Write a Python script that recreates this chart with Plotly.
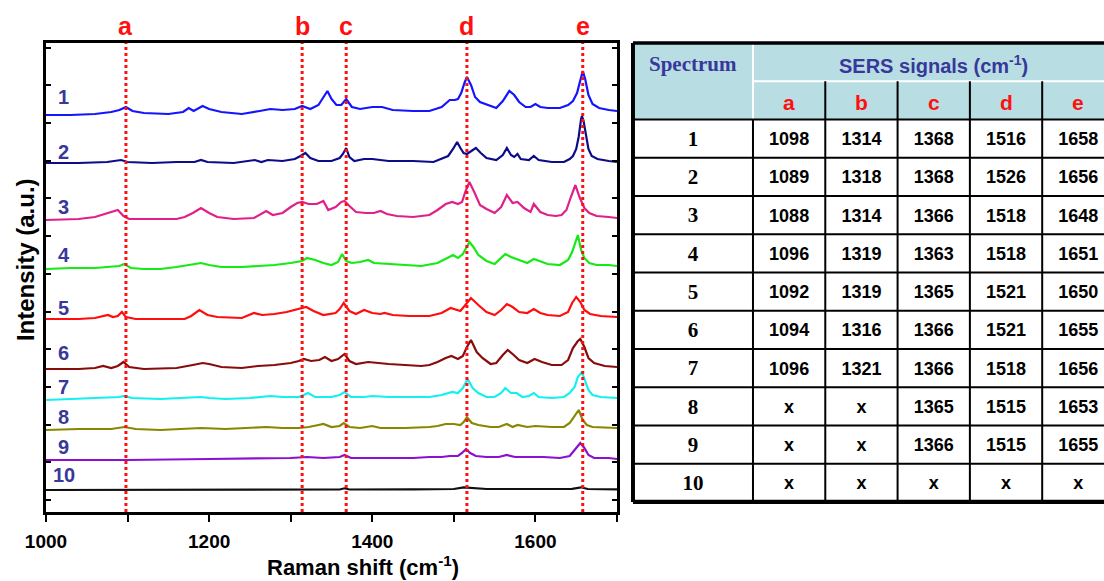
import plotly.graph_objects as go

# ---------------- data ----------------
mark_labels = ["a", "b", "c", "d", "e"]
mark_shifts = [1098, 1314, 1368, 1516, 1658]

spectrum_names = ["1", "2", "3", "4", "5", "6", "7", "8", "9", "10"]
spectrum_colors = ["#1414ff", "#0c0c8a", "#e0208a", "#14ea14", "#ff0c0c",
                   "#880c0c", "#14f0f0", "#888800", "#8c10d0", "#101010"]
# vertical stacking offset of each spectrum (a.u.)
offsets = [385, 337, 280, 231, 181, 131, 100, 70, 40, 10]
# height (a.u.) at which the number of each spectrum is written
label_levels = [403, 348, 293, 245, 192, 147, 113, 83, 53, 25]

# (Raman shift cm-1, intensity above own baseline a.u.)
spec1 = [(1000, 0), (1030, 0), (1060, 1), (1080, 3), (1090, 5), (1098, 8), (1106, 4), (1120, 2),
         (1150, 1), (1168, 3), (1175, 7), (1181, 4), (1192, 9), (1200, 6), (1215, 3), (1240, 1),
         (1262, 4), (1275, 6), (1290, 5), (1305, 6), (1314, 9), (1324, 6), (1334, 10), (1340, 18),
         (1345, 24), (1350, 16), (1356, 10), (1362, 10), (1368, 16), (1375, 8), (1385, 6), (1400, 8),
         (1412, 8), (1425, 5), (1450, 4), (1470, 4), (1485, 8), (1495, 15), (1501, 15), (1505, 16),
         (1509, 22), (1513, 32), (1516, 38), (1521, 30), (1526, 18), (1532, 13), (1545, 9), (1552, 7),
         (1560, 14), (1568, 24), (1574, 20), (1580, 13), (1588, 8), (1594, 8), (1600, 11), (1606, 8),
         (1615, 7), (1630, 7), (1640, 10), (1646, 14), (1651, 22), (1655, 36), (1658, 44), (1661, 36),
         (1665, 20), (1670, 11), (1678, 7), (1690, 5), (1700, 4)]
spec2 = [(1000, 0), (1040, 0), (1075, 1), (1086, 2), (1092, 3), (1100, 1), (1130, 0), (1160, 1),
         (1182, 1), (1190, 3), (1198, 1), (1230, 0), (1256, 3), (1264, 1), (1272, 3), (1290, 2),
         (1305, 4), (1312, 7), (1318, 10), (1324, 5), (1334, 2), (1350, 2), (1360, 5), (1364, 9),
         (1368, 15), (1372, 6), (1378, 2), (1390, 4), (1400, 4), (1420, 2), (1450, 2), (1475, 1),
         (1486, 5), (1493, 7), (1499, 14), (1504, 21), (1508, 15), (1512, 10), (1516, 9), (1521, 12),
         (1527, 15), (1533, 10), (1540, 5), (1552, 3), (1560, 8), (1565, 15), (1570, 8), (1574, 6),
         (1578, 9), (1582, 4), (1592, 3), (1598, 7), (1604, 3), (1620, 1), (1635, 1), (1642, 4),
         (1646, 7), (1650, 14), (1653, 26), (1656, 44), (1657, 47), (1659, 42), (1662, 28), (1665, 14),
         (1669, 7), (1676, 4), (1690, 2), (1700, 1)]
spec3 = [(1000, 0), (1040, 1), (1060, 3), (1075, 7), (1082, 9), (1088, 10), (1095, 4), (1102, 1),
         (1130, 1), (1160, 1), (1170, 3), (1180, 7), (1190, 12), (1200, 7), (1210, 3), (1230, 1),
         (1255, 2), (1264, 6), (1270, 9), (1278, 5), (1290, 7), (1300, 13), (1308, 17), (1314, 18),
         (1322, 16), (1332, 16), (1340, 19), (1346, 10), (1355, 13), (1362, 18), (1366, 19), (1372, 14),
         (1380, 8), (1392, 7), (1402, 7), (1410, 9), (1418, 6), (1430, 4), (1450, 3), (1470, 5),
         (1480, 10), (1490, 16), (1498, 18), (1505, 16), (1510, 18), (1514, 28), (1519, 38), (1525, 28),
         (1532, 15), (1540, 11), (1550, 7), (1558, 13), (1565, 25), (1572, 17), (1578, 18), (1586, 12),
         (1594, 8), (1598, 16), (1606, 8), (1615, 5), (1625, 4), (1632, 5), (1638, 10), (1643, 22),
         (1649, 35), (1654, 23), (1660, 12), (1666, 7), (1675, 4), (1690, 3), (1700, 2)]
spec4 = [(1000, 0), (1030, 1), (1060, 1), (1080, 2), (1090, 3), (1096, 5), (1104, 1), (1120, 0),
         (1140, 0), (1160, 2), (1180, 5), (1190, 6), (1200, 4), (1215, 2), (1240, 2), (1260, 3),
         (1280, 4), (1300, 6), (1314, 8), (1320, 11), (1330, 9), (1340, 6), (1350, 4), (1358, 7),
         (1363, 15), (1368, 8), (1375, 6), (1385, 7), (1395, 9), (1402, 6), (1420, 5), (1440, 4),
         (1460, 3), (1480, 6), (1490, 10), (1499, 14), (1505, 11), (1511, 15), (1519, 27), (1524, 22),
         (1530, 14), (1540, 8), (1550, 5), (1558, 11), (1563, 15), (1570, 12), (1580, 9), (1590, 6),
         (1598, 10), (1605, 8), (1615, 5), (1630, 4), (1640, 9), (1645, 17), (1649, 28), (1652, 34),
         (1656, 19), (1660, 11), (1666, 6), (1675, 4), (1690, 4), (1700, 3)]
spec5 = [(1000, 0), (1040, 0), (1060, 1), (1070, 3), (1076, 4), (1082, 2), (1088, 3), (1093, 7),
         (1098, 2), (1110, 0), (1170, 0), (1178, 3), (1188, 9), (1198, 4), (1210, 2), (1240, 1),
         (1255, 6), (1265, 4), (1280, 5), (1295, 7), (1310, 10), (1319, 12), (1328, 8), (1340, 4),
         (1355, 6), (1360, 10), (1365, 16), (1372, 8), (1380, 5), (1390, 9), (1400, 6), (1410, 5),
         (1415, 6), (1425, 4), (1445, 3), (1470, 3), (1485, 6), (1496, 11), (1508, 8), (1514, 14),
         (1521, 21), (1530, 14), (1540, 7), (1550, 4), (1558, 9), (1565, 15), (1572, 12), (1580, 7),
         (1590, 6), (1598, 10), (1606, 6), (1615, 4), (1630, 3), (1640, 7), (1645, 16), (1650, 22),
         (1655, 17), (1660, 9), (1667, 5), (1680, 3), (1700, 2)]
spec6 = [(1000, 0), (1040, 0), (1060, 1), (1070, 3), (1080, 1), (1088, 3), (1095, 7), (1102, 2),
         (1120, 0), (1160, 1), (1180, 4), (1192, 6), (1200, 5), (1215, 2), (1240, 1), (1260, 3),
         (1280, 4), (1300, 6), (1310, 8), (1316, 10), (1325, 8), (1335, 9), (1342, 12), (1350, 8),
         (1358, 10), (1366, 15), (1372, 8), (1380, 5), (1395, 7), (1405, 6), (1420, 5), (1440, 4),
         (1460, 3), (1470, 4), (1480, 7), (1490, 11), (1497, 13), (1505, 10), (1511, 13), (1516, 22),
         (1521, 29), (1528, 17), (1535, 11), (1545, 5), (1552, 6), (1560, 14), (1566, 19), (1572, 15),
         (1580, 9), (1590, 6), (1599, 10), (1608, 7), (1620, 4), (1632, 4), (1640, 9), (1646, 21),
         (1652, 28), (1655, 30), (1660, 22), (1665, 11), (1672, 6), (1685, 3), (1700, 2)]
spec7 = [(1000, 0), (1040, 1), (1080, 2), (1090, 3), (1096, 4), (1105, 2), (1140, 1), (1180, 2),
         (1190, 3), (1200, 2), (1220, 1), (1250, 2), (1275, 4), (1290, 3), (1310, 3), (1316, 5),
         (1321, 7), (1330, 3), (1350, 3), (1360, 5), (1366, 8), (1374, 3), (1390, 3), (1400, 4),
         (1420, 3), (1450, 3), (1470, 3), (1485, 5), (1498, 8), (1505, 7), (1511, 12), (1517, 21),
         (1523, 12), (1530, 7), (1540, 3), (1550, 3), (1558, 7), (1563, 12), (1570, 7), (1577, 7),
         (1584, 3), (1592, 4), (1598, 7), (1604, 3), (1620, 2), (1635, 3), (1642, 7), (1648, 13),
         (1652, 23), (1657, 28), (1661, 18), (1665, 10), (1670, 5), (1680, 3), (1700, 2)]
spec8 = [(1000, 0), (1040, 1), (1080, 1), (1090, 2), (1096, 3), (1110, 1), (1140, 0), (1190, 2),
         (1220, 1), (1270, 3), (1290, 2), (1310, 2), (1322, 3), (1334, 5), (1340, 6), (1350, 3),
         (1360, 4), (1365, 7), (1372, 3), (1385, 2), (1400, 4), (1410, 2), (1440, 2), (1470, 3),
         (1480, 4), (1490, 6), (1500, 6), (1508, 5), (1512, 8), (1516, 13), (1522, 7), (1530, 5),
         (1545, 3), (1555, 3), (1565, 6), (1572, 3), (1578, 5), (1590, 3), (1600, 4), (1620, 3),
         (1635, 3), (1642, 7), (1647, 13), (1653, 20), (1658, 10), (1663, 5), (1670, 3), (1690, 2),
         (1700, 2)]
spec9 = [(1000, 0), (1100, 0), (1200, 1), (1300, 2), (1320, 3), (1340, 2), (1360, 3), (1366, 5),
         (1374, 2), (1400, 2), (1450, 2), (1470, 3), (1485, 3), (1495, 4), (1505, 4), (1510, 7),
         (1515, 11), (1520, 7), (1527, 4), (1540, 3), (1555, 3), (1565, 5), (1575, 3), (1590, 3),
         (1610, 3), (1630, 2), (1642, 4), (1648, 10), (1655, 17), (1660, 12), (1665, 5), (1672, 2),
         (1690, 2), (1700, 1)]
spec10 = [(1000, 0), (1100, 0), (1200, 0.5), (1300, 0.5), (1360, 0.5), (1366, 1.7), (1372, 0.5),
          (1450, 0.7), (1500, 1), (1512, 2.7), (1520, 2), (1540, 1), (1600, 1), (1645, 1.2),
          (1656, 2.7), (1664, 1), (1700, 0.7)]
spectra = [spec1, spec2, spec3, spec4, spec5, spec6, spec7, spec8, spec9, spec10]

# table of SERS signals
table_rows = ["1", "2", "3", "4", "5", "6", "7", "8", "9", "10"]
sig_a = ["1098", "1089", "1088", "1096", "1092", "1094", "1096", "x", "x", "x"]
sig_b = ["1314", "1318", "1314", "1319", "1319", "1316", "1321", "x", "x", "x"]
sig_c = ["1368", "1368", "1366", "1363", "1365", "1366", "1366", "1365", "1366", "x"]
sig_d = ["1516", "1526", "1518", "1518", "1521", "1521", "1518", "1515", "1515", "x"]
sig_e = ["1658", "1656", "1648", "1651", "1650", "1655", "1656", "1653", "1655", "x"]
sig_columns = [sig_a, sig_b, sig_c, sig_d, sig_e]

# ---------------- figure ----------------
SANS = "Liberation Sans, Arial, sans-serif"
SERIF = "Liberation Serif, Times New Roman, serif"
LABEL_BLUE = "#38389a"
HEADER_FILL = "#b8dde3"

fig = go.Figure()

for name, pts, off, col in zip(spectrum_names, spectra, offsets, spectrum_colors):
    fig.add_trace(go.Scatter(
        x=[p[0] for p in pts], y=[off + p[1] for p in pts],
        mode="lines", line=dict(color=col, width=2.2),
        showlegend=False, hoverinfo="skip", name=name))

shapes = []
# dotted marker lines at the reference positions
for m in mark_shifts:
    shapes.append(dict(type="line", xref="x", yref="y domain", x0=m, x1=m, y0=0, y1=1,
                       line=dict(color="#ff1010", width=3, dash="dot"), layer="above"))

annotations = []
for lab, m in zip(mark_labels, mark_shifts):
    annotations.append(dict(x=m, y=1.032, xref="x", yref="paper", text=f"<b>{lab}</b>",
                            showarrow=False, font=dict(family=SANS, size=25, color="#ff1010"),
                            xanchor="center", yanchor="middle"))
for name, lev in zip(spectrum_names, label_levels):
    annotations.append(dict(x=1022, y=lev, xref="x", yref="y", text=f"<b>{name}</b>",
                            showarrow=False, font=dict(family=SANS, size=20, color=LABEL_BLUE),
                            xanchor="center", yanchor="middle"))
annotations.append(dict(x=-0.0198, y=0.535, xref="paper", yref="paper",
                        text="<b>Intensity (a.u.)</b>", textangle=-90, showarrow=False,
                        font=dict(family=SANS, size=24, color="black"),
                        xanchor="center", yanchor="middle"))
annotations.append(dict(x=0.2996, y=-0.114, xref="paper", yref="paper",
                        text="<b>Raman shift (cm<sup>-1</sup>)</b>", showarrow=False,
                        font=dict(family=SANS, size=22, color="black"),
                        xanchor="center", yanchor="middle"))

# ---------------- table (drawn on its own axes, pixel-like units) ----------------
spec_w = 120.0
sig_w = 72.3
row_h = 38.25
col_edges = [0.0, spec_w] + [spec_w + sig_w * (i + 1) for i in range(5)]
n_rows = len(table_rows) + 2
table_bottom = n_rows * row_h
x_end = col_edges[-1]


def rect(x0, x1, y0, y1, fill):
    shapes.append(dict(type="rect", xref="x2", yref="y2", x0=x0, x1=x1, y0=y0, y1=y1,
                       fillcolor=fill, line=dict(width=0), layer="below"))


def seg(x0, x1, y0, y1, w):
    shapes.append(dict(type="line", xref="x2", yref="y2", x0=x0, x1=x1, y0=y0, y1=y1,
                       line=dict(color="black", width=w), layer="above"))


rect(0, spec_w - 1, 0, 2 * row_h, HEADER_FILL)
rect(spec_w + 1, x_end, 0, row_h - 1, HEADER_FILL)
rect(spec_w + 1, x_end, row_h + 1, 2 * row_h, HEADER_FILL)

for k in range(2, n_rows):
    seg(0, x_end, k * row_h, k * row_h, 2.2 if k == 2 else 2)
seg(spec_w, spec_w, 2 * row_h, table_bottom, 2)
for xe in col_edges[2:-1]:
    seg(xe, xe, row_h, table_bottom, 2)
seg(0, 0, 0, table_bottom, 4)
seg(0, x_end, 0, 0, 3.5)
seg(0, x_end, table_bottom, table_bottom, 4.5)

annotations.append(dict(x=spec_w / 2, y=0.55 * row_h, xref="x2", yref="y2",
                        text="<b>Spectrum</b>", showarrow=False,
                        font=dict(family=SERIF, size=21, color=LABEL_BLUE)))
annotations.append(dict(x=(spec_w + x_end) / 2, y=0.55 * row_h, xref="x2", yref="y2",
                        text="<b>SERS signals (cm<sup>-1</sup>)</b>", showarrow=False,
                        font=dict(family=SANS, size=20, color=LABEL_BLUE)))
for i, lab in enumerate(mark_labels):
    annotations.append(dict(x=(col_edges[i + 1] + col_edges[i + 2]) / 2, y=1.55 * row_h,
                            xref="x2", yref="y2", text=f"<b>{lab}</b>", showarrow=False,
                            font=dict(family=SANS, size=21, color="#ff1010")))

row_centers = [(k + 2.55) * row_h for k in range(len(table_rows))]
fig.add_trace(go.Scatter(x=[spec_w / 2] * len(table_rows), y=row_centers,
                         text=[f"<b>{r}</b>" for r in table_rows], mode="text",
                         textfont=dict(family=SERIF, size=21, color="black"),
                         xaxis="x2", yaxis="y2", showlegend=False, hoverinfo="skip"))
for i, colvals in enumerate(sig_columns):
    cx = (col_edges[i + 1] + col_edges[i + 2]) / 2
    fig.add_trace(go.Scatter(x=[cx] * len(colvals), y=row_centers,
                             text=[f"<b>{v}</b>" for v in colvals], mode="text",
                             textfont=dict(family=SANS, size=18, color="black"),
                             xaxis="x2", yaxis="y2", showlegend=False, hoverinfo="skip",
                             cliponaxis=False))

fig.update_layout(
    width=1104, height=581,
    margin=dict(l=46, r=0, t=41, b=69),
    paper_bgcolor="white", plot_bgcolor="white",
    showlegend=False,
    xaxis=dict(domain=[0, 0.5397], range=[1000, 1700], showline=True, linecolor="black",
               linewidth=3, mirror=True, ticks="outside", ticklen=7, tickwidth=2,
               tickcolor="black", tick0=1000, dtick=200,
               minor=dict(dtick=100, ticks="outside", ticklen=7, tickwidth=2, tickcolor="black"),
               showgrid=False, zeroline=False, ticklabelstandoff=3,
               tickfont=dict(family=SANS, size=19, color="black", weight="bold")),
    yaxis=dict(domain=[0, 0.99575], range=[-12, 457], showline=True, linecolor="black",
               linewidth=3, mirror="ticks", ticks="inside", ticklen=5, tickwidth=1.5,
               tickcolor="black", tick0=0, dtick=37.7, showticklabels=False,
               showgrid=False, zeroline=False),
    xaxis2=dict(domain=[0.5529, 1], range=[-2, 471], visible=False, anchor="y2",
                showgrid=False, zeroline=False),
    yaxis2=dict(domain=[0.016985, 1], range=[461, -2], visible=False, anchor="x2",
                showgrid=False, zeroline=False),
)
fig.layout.shapes = shapes
fig.layout.annotations = annotations

fig.write_html("out.html")
